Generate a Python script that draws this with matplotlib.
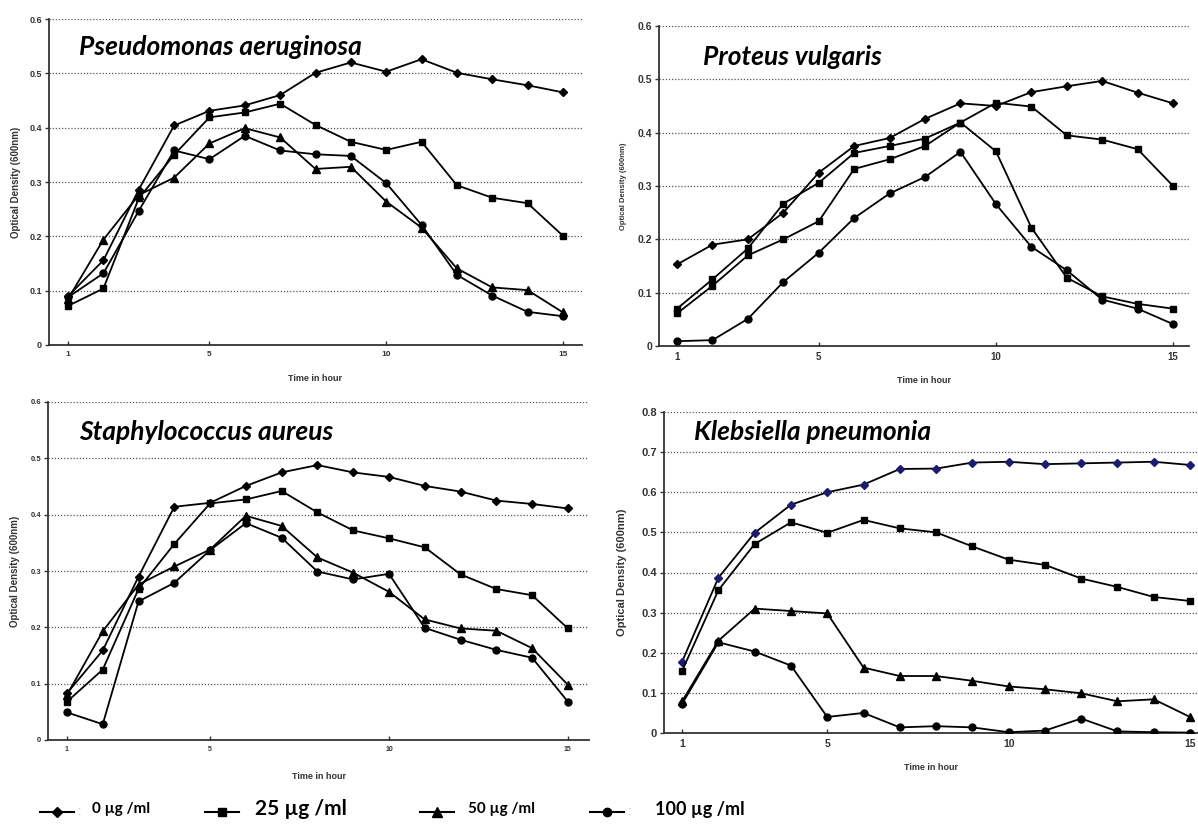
import matplotlib
matplotlib.use('Agg')
import matplotlib.pyplot as plt

# growth curves, OD at 600nm, hours 1..15
hours = list(range(1, 16))

pa_0 = [0.090, 0.156, 0.286, 0.404, 0.431, 0.441, 0.460, 0.501, 0.520, 0.503, 0.526, 0.501, 0.489, 0.478, 0.465]
pa_25 = [0.072, 0.104, 0.270, 0.350, 0.419, 0.428, 0.444, 0.405, 0.374, 0.359, 0.374, 0.294, 0.271, 0.261, 0.201]
pa_50 = [0.085, 0.194, 0.276, 0.308, 0.371, 0.399, 0.382, 0.324, 0.328, 0.264, 0.216, 0.141, 0.106, 0.101, 0.060]
pa_100 = [0.088, 0.132, 0.247, 0.358, 0.342, 0.385, 0.358, 0.351, 0.348, 0.298, 0.221, 0.129, 0.091, 0.061, 0.053]

pv_0 = [0.153, 0.190, 0.200, 0.250, 0.325, 0.375, 0.390, 0.426, 0.455, 0.450, 0.476, 0.487, 0.497, 0.475, 0.455]
pv_25 = [0.070, 0.125, 0.183, 0.267, 0.306, 0.362, 0.375, 0.389, 0.419, 0.456, 0.449, 0.395, 0.387, 0.369, 0.300]
pv_50 = [0.061, 0.113, 0.170, 0.200, 0.234, 0.332, 0.350, 0.375, 0.419, 0.365, 0.222, 0.128, 0.093, 0.079, 0.070]
pv_100 = [0.009, 0.011, 0.051, 0.120, 0.175, 0.240, 0.286, 0.317, 0.364, 0.266, 0.186, 0.142, 0.087, 0.070, 0.041]

sa_0 = [0.083, 0.159, 0.290, 0.414, 0.421, 0.451, 0.475, 0.488, 0.475, 0.467, 0.451, 0.441, 0.425, 0.419, 0.411]
sa_25 = [0.068, 0.125, 0.268, 0.348, 0.420, 0.427, 0.442, 0.404, 0.372, 0.358, 0.342, 0.294, 0.268, 0.257, 0.198]
sa_50 = [0.080, 0.193, 0.276, 0.308, 0.338, 0.398, 0.380, 0.324, 0.297, 0.263, 0.214, 0.198, 0.194, 0.163, 0.098]
sa_100 = [0.049, 0.028, 0.246, 0.279, 0.337, 0.385, 0.359, 0.299, 0.285, 0.295, 0.199, 0.178, 0.160, 0.146, 0.068]

kp_0 = [0.178, 0.387, 0.499, 0.569, 0.600, 0.619, 0.658, 0.659, 0.674, 0.676, 0.670, 0.672, 0.674, 0.676, 0.668]
kp_25 = [0.155, 0.356, 0.471, 0.525, 0.499, 0.531, 0.510, 0.500, 0.465, 0.432, 0.419, 0.385, 0.364, 0.339, 0.329]
kp_50 = [0.079, 0.230, 0.310, 0.304, 0.298, 0.163, 0.142, 0.142, 0.130, 0.116, 0.109, 0.099, 0.079, 0.084, 0.040]
kp_100 = [0.073, 0.226, 0.203, 0.168, 0.040, 0.050, 0.014, 0.017, 0.014, 0.002, 0.006, 0.036, 0.004, 0.002, 0.001]

conc_labels = ['0 \u00b5g /ml', '25 \u00b5g /ml', '50 \u00b5g /ml', '100 \u00b5g /ml']
xticks = [1, 5, 10, 15]

W, H = 1198, 832
fig = plt.figure(figsize=(W / 100, H / 100), dpi=100)

def px_axes(l, t, r, b):
    return fig.add_axes([l / W, 1 - b / H, (r - l) / W, (b - t) / H])

msize = {'D': 4, 's': 5, '^': 5.5, 'o': 5}

def panel(box, xlim, ymax, series, markers, tick_fs, lab_fs, first_color='black'):
    ax = px_axes(*box)
    for i, (ys, m) in enumerate(zip(series, markers)):
        mc = first_color if i == 0 else 'black'
        ax.plot(hours, ys, color='black', lw=1.3, marker=m, ms=msize[m],
                mfc=mc, mec=mc, zorder=3)
    ax.set_xlim(*xlim)
    ax.set_ylim(0, ymax)
    yt = [round(0.1 * k, 1) for k in range(int(round(ymax * 10)) + 1)]
    ax.set_yticks(yt)
    ax.set_yticklabels(['0' if v == 0 else '%.1f' % v for v in yt])
    ax.set_xticks(xticks)
    ax.set_xticklabels([str(v) for v in xticks])
    for v in yt[1:]:
        ax.axhline(v, color='#555555', lw=0.9, ls=(0, (1, 1.5)), zorder=1)
    for s in ['top', 'right']:
        ax.spines[s].set_visible(False)
    for s in ['left', 'bottom']:
        ax.spines[s].set_color('#333333')
        ax.spines[s].set_linewidth(1.3)
    ax.tick_params(axis='y', direction='out', length=3, width=1, colors='#333333',
                   labelsize=tick_fs, pad=2)
    ax.tick_params(axis='x', direction='in', length=3, width=1, colors='#333333',
                   labelsize=tick_fs - 0.5, pad=4)
    for t in ax.get_xticklabels() + ax.get_yticklabels():
        t.set_fontweight('bold')
        t.set_color('#333333')
    ax.set_ylabel('Optical Density (600nm)', fontsize=lab_fs, fontweight='bold', color='#333333')
    ax.set_xlabel('Time in hour', fontsize=6.5, fontweight='bold', color='#333333')
    return ax

plt.rcParams['font.family'] = ['Liberation Sans', 'DejaVu Sans']

ax1 = panel((49, 19, 582, 345), (0.46, 15.54), 0.6, [pa_0, pa_25, pa_50, pa_100],
            ['D', 's', '^', 'o'], 6.5, 7)
ax1.yaxis.set_label_coords(-0.053, 0.5)
ax1.xaxis.set_label_coords(0.5, -0.09)

ax2 = panel((659, 26, 1189, 346), (0.49, 15.45), 0.6, [pv_0, pv_25, pv_50, pv_100],
            ['D', 's', 's', 'o'], 7.5, 5.5)
ax2.yaxis.set_label_coords(-0.06, 0.5)
ax2.xaxis.set_label_coords(0.5, -0.095)

ax3 = panel((48, 402, 589, 740), (0.47, 15.59), 0.6, [sa_0, sa_25, sa_50, sa_100],
            ['D', 's', '^', 'o'], 5.5, 7)
ax3.yaxis.set_label_coords(-0.052, 0.5)
ax3.xaxis.set_label_coords(0.5, -0.095)

ax4 = panel((664, 412, 1198, 733), (0.5, 15.22), 0.8, [kp_0, kp_25, kp_50, kp_100],
            ['D', 's', '^', 'o'], 8, 8, first_color='#1c1c6e')
ax4.yaxis.set_label_coords(-0.07, 0.5)
ax4.xaxis.set_label_coords(0.5, -0.095)

# species names
title_kw = dict(fontsize=19, fontweight='bold', style='italic', family=['Lato', 'DejaVu Sans'],
                va='center', ha='left')
fig.text(79 / W, 1 - 47 / H, 'Pseudomonas aeruginosa', **title_kw)
fig.text(703 / W, 1 - 57 / H, 'Proteus vulgaris', **title_kw)
fig.text(79 / W, 1 - 432 / H, 'Staphylococcus aureus', **title_kw)
fig.text(694 / W, 1 - 432 / H, 'Klebsiella pneumonia', **title_kw)

# legend drawn by hand along the bottom
leg_y = 812
leg_items = [('D', 40, 92, 11, True), ('s', 205, 255, 15, False),
             ('^', 420, 468, 11, False), ('o', 590, 655, 13, True)]
for (m, x0, tx, fs, colon), lab in zip(leg_items, conc_labels):
    xs = [x0 / W, (x0 + 17) / W, (x0 + 34) / W]
    fig.add_artist(plt.Line2D(xs, [1 - leg_y / H] * 3, color='black',
                              lw=1.5, marker=m, markevery=[1], ms=msize[m] + 1,
                              transform=fig.transFigure))
    if colon:
        fig.text((x0 + 38) / W, 1 - leg_y / H, ':', fontsize=9, color='#c8b070',
                 va='center', ha='left')
    fig.text(tx / W, 1 - (leg_y - 3) / H, lab, fontsize=fs, fontweight='bold',
             family=['Lato', 'DejaVu Sans'], va='center', ha='left')

fig.savefig('out.png', dpi=100)
